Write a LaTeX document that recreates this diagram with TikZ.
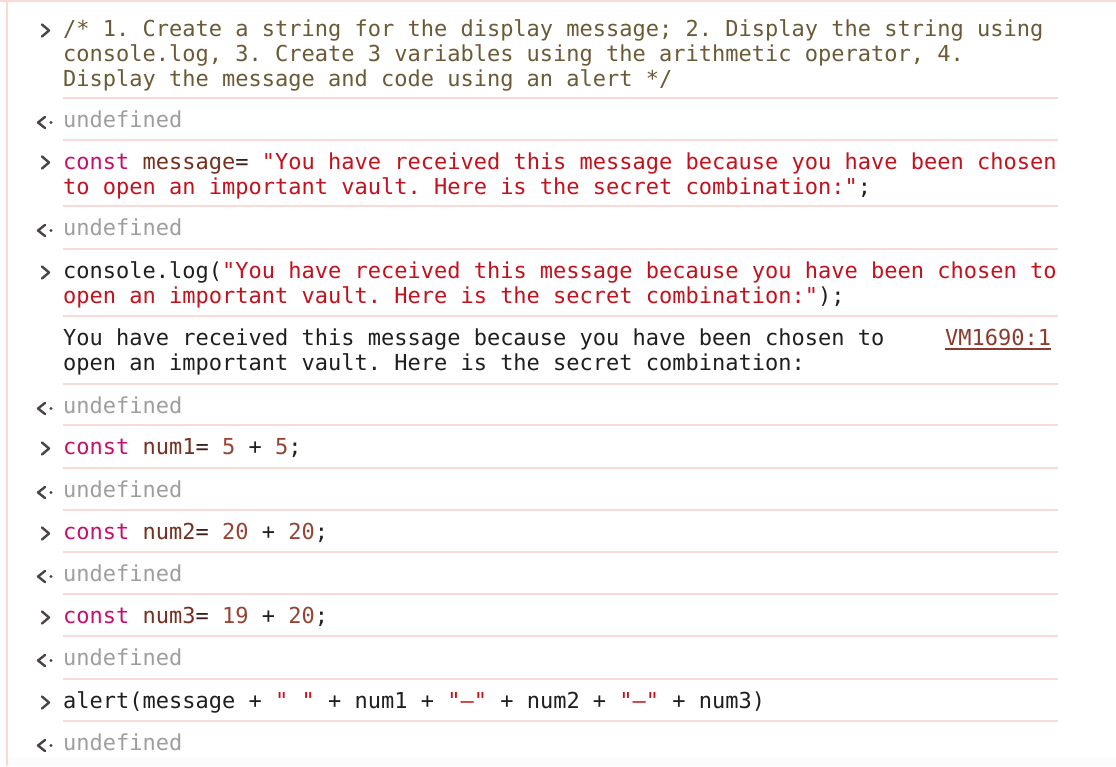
\documentclass[tikz,border=0pt]{standalone}
\usepackage{fontspec}
\setmonofont{DejaVu Sans Mono}
\usepackage{tikz}
\definecolor{plaincol}{HTML}{1F1F1F}
\definecolor{commentcol}{HTML}{6B5A36}
\definecolor{kwcol}{HTML}{C80D6E}
\definecolor{varcol}{HTML}{75301F}
\definecolor{opcol}{HTML}{3A1D18}
\definecolor{numcol}{HTML}{954433}
\definecolor{strcol}{HTML}{C3121E}
\definecolor{undefcol}{HTML}{9E9E9E}
\definecolor{linkcol}{HTML}{8B3B2E}
\definecolor{rulecol}{HTML}{F9DAD6}
\definecolor{chevcol}{HTML}{4A4444}
\newcommand{\jskw}[1]{\textcolor{kwcol}{#1}}
\newcommand{\jsvar}[1]{\textcolor{varcol}{#1}}
\newcommand{\jsop}[1]{\textcolor{opcol}{#1}}
\newcommand{\jsnum}[1]{\textcolor{numcol}{#1}}
\newcommand{\jsstr}[1]{\textcolor{strcol}{#1}}
\tikzset{
	code/.style={anchor=base west, inner sep=0pt, font=\ttfamily\fontsize{22}{25}\selectfont, text=plaincol},
	rule/.style={draw=rulecol, line width=2pt},
	prompt/.pic={\draw[chevcol, line width=2.4pt, line cap=round, line join=round] (-3.5,-6) -- (3.5,0) -- (-3.5,6);},
	result/.pic={\draw[chevcol, line width=2.4pt, line cap=round, line join=round] (3.5,-5.5) -- (-3.5,0) -- (3.5,5.5);
		\fill[chevcol] (9.5,0) circle (1.7);}
}
\begin{document}
\begin{tikzpicture}[x=1pt,y=-1pt]
		\useasboundingbox (0,0) rectangle (1116,766);
		\fill[white] (0,0) rectangle (1116,766);
		\fill[black!1] (8,757) rectangle (1116,766);
		\draw[rulecol, line width=2.4pt] (0,1.2) -- (1116,1.2);
		\draw[rulecol, line width=2pt] (6.5,0) -- (6.5,766);
		\draw[rule] (63,98) -- (1058,98);
		\draw[rule] (63,140) -- (1058,140);
		\draw[rule] (63,206) -- (1058,206);
		\draw[rule] (63,249) -- (1058,249);
		\draw[rule] (63,316) -- (1058,316);
		\draw[rule] (63,384) -- (1058,384);
		\draw[rule] (63,425) -- (1058,425);
		\draw[rule] (63,468) -- (1058,468);
		\draw[rule] (63,510) -- (1058,510);
		\draw[rule] (63,552) -- (1058,552);
		\draw[rule] (63,594) -- (1058,594);
		\draw[rule] (63,636) -- (1058,636);
		\draw[rule] (63,679) -- (1058,679);
		\draw[rule] (63,721) -- (1058,721);
		\pic at (45.5,30.5) {prompt};
		\pic at (45.5,162.5) {prompt};
		\pic at (45.5,272.5) {prompt};
		\pic at (45.5,448.5) {prompt};
		\pic at (45.5,533.5) {prompt};
		\pic at (45.5,617.5) {prompt};
		\pic at (45.5,702.5) {prompt};
		\pic at (41.5,122.5) {result};
		\pic at (41.5,230.5) {result};
		\pic at (41.5,408.5) {result};
		\pic at (41.5,492.5) {result};
		\pic at (41.5,576.5) {result};
		\pic at (41.5,660.5) {result};
		\pic at (41.5,745.5) {result};
		\node[code, text=commentcol] (note1) at (63,36) {/* 1. Create a string for the display message; 2. Display the string using};
		\node[code, text=commentcol] (note2) at (63,61) {console.log, 3. Create 3 variables using the arithmetic operator, 4.};
		\node[code, text=commentcol] (note3) at (63,86) {Display the message and code using an alert */};
		\node[code, text=undefcol] (undef1) at (63,127) {undefined};
		\node[code] (msg1) at (63,169) {\jskw{const} \jsvar{message}\jsop{=} \jsstr{"You have received this message because you have been chosen}};
		\node[code] (msg2) at (63,194) {\jsstr{to open an important vault. Here is the secret combination:"};};
		\node[code, text=undefcol] (undef2) at (63,235) {undefined};
		\node[code] (log1) at (63,278) {console.log(\jsstr{"You have received this message because you have been chosen to}};
		\node[code] (log2) at (63,303) {\jsstr{open an important vault. Here is the secret combination:"});};
		\node[code] (out1) at (63,345) {You have received this message because you have been chosen to};
		\node[code] (out2) at (63,370) {open an important vault. Here is the secret combination:};
		\node[code, text=linkcol] (vm) at (945,345) {VM1690:1};
		\draw[linkcol, line width=1.6pt] ([yshift=-4pt]vm.base west) -- ([yshift=-4pt]vm.base east);
		\node[code, text=undefcol] (undef3) at (63,413) {undefined};
		\node[code] (num1) at (63,454) {\jskw{const} \jsvar{num1}\jsop{=} \jsnum{5} + \jsnum{5};};
		\node[code, text=undefcol] (undef4) at (63,497) {undefined};
		\node[code] (num2) at (63,539) {\jskw{const} \jsvar{num2}\jsop{=} \jsnum{20} + \jsnum{20};};
		\node[code, text=undefcol] (undef5) at (63,581) {undefined};
		\node[code] (num3) at (63,623) {\jskw{const} \jsvar{num3}\jsop{=} \jsnum{19} + \jsnum{20};};
		\node[code, text=undefcol] (undef6) at (63,665) {undefined};
		\node[code] (alert) at (63,708) {alert(message + \jsstr{" "} + num1 + \jsstr{"–"} + num2 + \jsstr{"–"} + num3)};
		\node[code, text=undefcol] (undef7) at (63,750) {undefined};
	\end{tikzpicture}
\end{document}
